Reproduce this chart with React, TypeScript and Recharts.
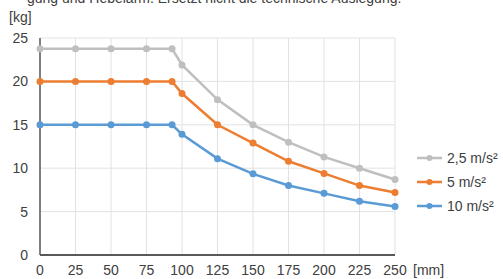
import { LineChart, Line, XAxis, YAxis, CartesianGrid, Label } from "recharts";

const distance = [0, 25, 50, 75, 93, 100, 125, 150, 175, 200, 225, 250];
const load25 = [23.75, 23.75, 23.75, 23.75, 23.75, 21.9, 17.9, 15, 13, 11.3, 10, 8.7];
const load5 = [20, 20, 20, 20, 20, 18.6, 15, 12.9, 10.8, 9.4, 8, 7.2];
const load10 = [15, 15, 15, 15, 15, 13.9, 11.1, 9.35, 8, 7.1, 6.2, 5.6];

const xTicks = [0, 25, 50, 75, 100, 125, 150, 175, 200, 225, 250];
const yTicks = [0, 5, 10, 15, 20, 25];

const series = [
  { key: "a25", name: "2,5 m/s²", color: "#bfbfbf", values: load25 },
  { key: "a5", name: "5 m/s²", color: "#ed7d31", values: load5 },
  { key: "a10", name: "10 m/s²", color: "#5b9bd5", values: load10 },
];

const data = distance.map((x, i) => ({
  x,
  a25: load25[i],
  a5: load5[i],
  a10: load10[i],
}));

const font = "'Liberation Sans', Arial, sans-serif";
const textColor = "#404040";
const fs = 14;

// eigene Legende: Linie mit Punkt, rechts neben dem Diagramm
function SideLegend() {
  return (
    <div
      style={{
        position: "absolute",
        left: 416,
        top: 146,
        fontFamily: font,
        fontSize: fs,
        color: textColor,
      }}
    >
      {series.map((s) => (
        <div key={s.key} style={{ display: "flex", alignItems: "center", height: 24 }}>
          <svg width={31} height={10}>
            <line x1={1} y1={5} x2={26} y2={5} stroke={s.color} strokeWidth={2.5} />
            <circle cx={13.5} cy={5} r={3} fill={s.color} />
          </svg>
          <span>{s.name}</span>
        </div>
      ))}
    </div>
  );
}

export default function App() {
  return (
    <div style={{ position: "absolute", left: 0, top: 0, width: 503, height: 279, overflow: "hidden", background: "#fff" }}>
      <div
        style={{
          position: "absolute",
          left: 27,
          top: -10,
          fontFamily: font,
          fontSize: fs,
          lineHeight: "16px",
          color: textColor,
          whiteSpace: "nowrap",
        }}
      >
        gung und Hebelarm. Ersetzt nicht die technische Auslegung.
      </div>
      <div
        style={{
          position: "absolute",
          left: 9,
          top: 9,
          fontFamily: font,
          fontSize: fs,
          lineHeight: "16px",
          color: textColor,
        }}
      >
        [kg]
      </div>
      <LineChart
        width={503}
        height={279}
        data={data}
        margin={{ top: 38, right: 108, bottom: 0, left: 0 }}
      >
        <CartesianGrid stroke="#e2e2e2" strokeWidth={1} />
        <XAxis
          dataKey="x"
          type="number"
          domain={[0, 250]}
          ticks={xTicks}
          height={24}
          tickLine={false}
          tickSize={0}
          tickMargin={10}
          axisLine={{ stroke: "#595959", strokeWidth: 2 }}
          tick={{ fill: textColor, fontSize: fs, fontFamily: font }}
          interval={0}
        >
          <Label
            value="[mm]"
            position="right"
            offset={18}
            dy={3}
            style={{ fill: textColor, fontSize: fs, fontFamily: font }}
          />
        </XAxis>
        <YAxis
          type="number"
          domain={[0, 25]}
          ticks={yTicks}
          width={40}
          tickLine={false}
          tickSize={0}
          tickMargin={12}
          axisLine={{ stroke: "#595959", strokeWidth: 1.5 }}
          tick={{ fill: textColor, fontSize: fs, fontFamily: font }}
          interval={0}
        />
        {series.map((s) => (
          <Line
            key={s.key}
            dataKey={s.key}
            name={s.name}
            stroke={s.color}
            strokeWidth={2.5}
            dot={{ r: 3.5, fill: s.color, stroke: s.color, strokeWidth: 0 }}
            activeDot={false}
            isAnimationActive={false}
          />
        ))}
      </LineChart>
      <SideLegend />
    </div>
  );
}
